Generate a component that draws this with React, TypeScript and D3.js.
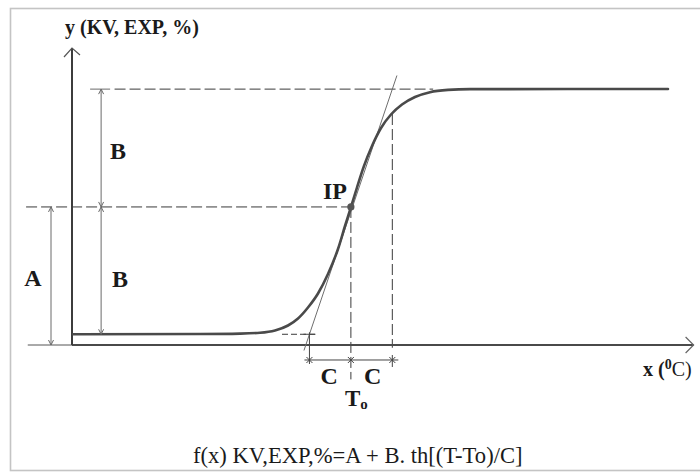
import React from "react";
import * as d3 from "d3";

// Curve points (x in arbitrary temperature units, y in %)
const curveT = [0.18, 22.86, 30.0, 33.57, 36.25, 38.57, 40.36, 42.14, 43.93, 45.71, 47.5, 48.75, 49.82, 50.89, 52.14, 53.57, 55.18, 56.96, 58.93, 61.25, 63.93, 67.14, 71.07, 106.43];
const curveY = [3.89, 4.0, 4.15, 4.44, 5.27, 7.09, 9.64, 13.64, 18.73, 25.82, 34.91, 43.27, 50.18, 57.27, 65.09, 72.36, 78.91, 83.82, 87.45, 90.18, 91.93, 92.76, 93.05, 93.09];

// Model parameters (levels)
const levelLow = 3.9; // A - B
const levelMid = 50.2; // A (inflection point)
const levelHigh = 93.05; // A + B
const T0 = 49.8;
const C = 7.4;

const xDomain = [0, 111];
const yDomain = [0, 108];

const labels = {
  yAxis: "y (KV, EXP, %)",
  formula: "f(x) KV,EXP,%=A + B. th[(T-To)/C]",
};

export default function App() {
  const W = 700;
  const H = 474;
  const x = d3.scaleLinear().domain(xDomain).range([72, 693.6]);
  const y = d3.scaleLinear().domain(yDomain).range([345, 48]);

  const pts: [number, number][] = curveT.map((t, i) => [t, curveY[i]]);
  const line = d3
    .line<[number, number]>()
    .x((d) => x(d[0]))
    .y((d) => y(d[1]))
    .curve(d3.curveMonotoneX);

  // tangent through (T0-C, low) and (T0+C, high), extended
  const slope = (levelHigh - levelLow) / (2 * C);
  const tanY1 = -2;
  const tanY2 = 98;
  const tanX1 = T0 - C + (tanY1 - levelLow) / slope;
  const tanX2 = T0 - C + (tanY2 - levelLow) / slope;

  const dimStroke = "#6a6a6a";
  const dash = "11,4";
  const textColor = "#1a1a1a";
  const serif = "'Liberation Serif', 'Times New Roman', serif";

  const arrowV = (px: number, py: number, dir: 1 | -1, s = 5) =>
    `M${px - 2.5},${py + dir * s} L${px},${py} L${px + 2.5},${py + dir * s}`;

  const xA = x(-3.75);
  const xB = x(5.2);
  const yDimC = y(-5.45);

  return (
    <svg
      width={W}
      height={H}
      style={{ position: "absolute", left: 0, top: 0, background: "#fff" }}
      fontFamily={serif}
    >
      {/* frame */}
      <rect x={10.5} y={8.5} width={720} height={462} fill="none" stroke="#c4c4c4" strokeWidth={1.6} />

      {/* dashed guides */}
      <g stroke="#3a3a3a" strokeWidth={1} strokeDasharray={dash} fill="none">
        <line x1={x(7.6)} x2={x(64.5)} y1={y(levelHigh)} y2={y(levelHigh)} />
        <line x1={x(-8.2)} x2={x(T0)} y1={y(levelMid)} y2={y(levelMid)} />
        <line x1={x(T0)} x2={x(T0)} y1={y(levelMid)} y2={y(-12.5)} />
        <line x1={x(T0 + C)} x2={x(T0 + C)} y1={y(84)} y2={y(-1)} />
        <line x1={x(37.5)} x2={x(43.8)} y1={y(levelLow)} y2={y(levelLow)} strokeDasharray="6,3" />
      </g>

      {/* axes */}
      <line x1={x(-7.9)} x2={x(0)} y1={y(0)} y2={y(0)} stroke="#555" strokeWidth={1} />
      <line x1={x(0)} x2={x(xDomain[1])} y1={y(0)} y2={y(0)} stroke="#4a4a4a" strokeWidth={2} />
      <path
        d={`M${x(xDomain[1]) - 8},${y(0) - 8} L${x(xDomain[1])},${y(0)} L${x(xDomain[1]) - 8},${y(0) + 8}`}
        fill="none"
        stroke="#666"
        strokeWidth={1.2}
      />
      <line x1={x(0)} x2={x(0)} y1={y(0)} y2={y(yDomain[1])} stroke="#3c3c3c" strokeWidth={2} />
      <path
        d={`M${x(0) - 8},${y(yDomain[1]) + 9} L${x(0)},${y(yDomain[1])} L${x(0) + 8},${y(yDomain[1]) + 7}`}
        fill="none"
        stroke="#555"
        strokeWidth={1.2}
      />

      {/* tangent */}
      <line x1={x(tanX1)} y1={y(tanY1)} x2={x(tanX2)} y2={y(tanY2)} stroke="#6e6e6e" strokeWidth={1} />

      {/* curve */}
      <path d={line(pts) || ""} fill="none" stroke="#4a4a4a" strokeWidth={2.6} strokeLinecap="round" />

      {/* A dimension */}
      <g stroke={dimStroke} strokeWidth={1} fill="none">
        <line x1={xA} x2={xA} y1={y(levelMid)} y2={y(0)} />
        <path d={arrowV(xA, y(levelMid), 1)} />
        <path d={arrowV(xA, y(0), -1)} />
      </g>

      {/* B dimensions */}
      <g stroke={dimStroke} strokeWidth={1} fill="none">
        <line x1={xB} x2={xB} y1={y(levelHigh)} y2={y(levelLow)} />
        <line x1={xB - 11} x2={xB + 9} y1={y(levelHigh)} y2={y(levelHigh)} />
        <path d={arrowV(xB, y(levelHigh), 1)} />
        <path d={arrowV(xB, y(levelMid), -1)} />
        <path d={arrowV(xB, y(levelMid), 1)} />
        <path d={arrowV(xB, y(levelLow), -1)} />
      </g>

      {/* C dimension */}
      <g stroke="#444" strokeWidth={1} fill="none">
        <line x1={x(T0 - C)} x2={x(T0 + C)} y1={yDimC} y2={yDimC} />
        <line x1={x(T0 - C) - 5} x2={x(T0 - C)} y1={yDimC} y2={yDimC} />
        <line x1={x(T0 + C)} x2={x(T0 + C) + 6} y1={yDimC} y2={yDimC} />
        <line x1={x(T0 - C)} x2={x(T0 - C)} y1={y(levelLow) - 2} y2={yDimC + 4} />
        <line x1={x(T0 + C)} x2={x(T0 + C)} y1={yDimC - 5} y2={yDimC + 7} />
        {[T0 - C, T0, T0 + C].map((t, i) => (
          <g key={i}>
            <line x1={x(t) - 3} x2={x(t) + 3} y1={yDimC - 3} y2={yDimC + 3} />
            <line x1={x(t) - 3} x2={x(t) + 3} y1={yDimC + 3} y2={yDimC - 3} />
          </g>
        ))}
        <line x1={x(T0 - C) - 6} x2={x(T0 - C) + 6} y1={y(levelLow)} y2={y(levelLow)} />
      </g>

      {/* inflection point */}
      <circle cx={x(T0)} cy={y(levelMid)} r={3.6} fill="#555" />

      {/* labels */}
      <g fill={textColor} fontWeight="bold">
        <text x={65} y={34} fontSize={20}>
          {labels.yAxis}
        </text>
        <text x={xA - 18} y={286} fontSize={24} textAnchor="middle">
          A
        </text>
        <text x={xB + 19} y={287} fontSize={24} textAnchor="middle">
          B
        </text>
        <text x={xB + 17} y={159} fontSize={24} textAnchor="middle">
          B
        </text>
        <text x={x(T0) - 16} y={199} fontSize={24} textAnchor="middle">
          IP
        </text>
        <text x={x(T0 - C / 2) - 1} y={384} fontSize={24} textAnchor="middle">
          C
        </text>
        <text x={x(T0 + C / 2) + 1} y={384} fontSize={24} textAnchor="middle">
          C
        </text>
        <text x={x(T0) - 6} y={406} fontSize={23}>
          T
          <tspan fontSize={15} dy={3}>
            o
          </tspan>
        </text>
      </g>
      <text x={643} y={376} fontSize={20} fill={textColor}>
        <tspan fontWeight="bold">x (</tspan>
        <tspan fontWeight="bold" fontSize={14} dy={-7}>
          0
        </tspan>
        <tspan dy={7}>C)</tspan>
      </text>
      <text x={193} y={463} fontSize={22.6} fill={textColor}>
        {labels.formula}
      </text>
    </svg>
  );
}
